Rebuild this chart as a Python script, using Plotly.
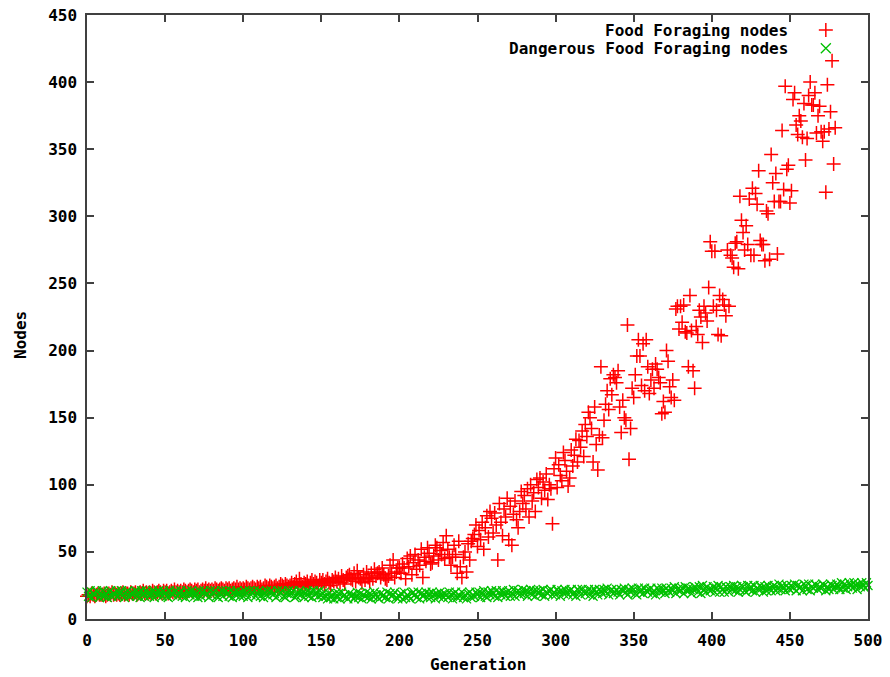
import plotly.graph_objects as go

# Food foraging node counts per generation (one value per generation, starting at 0)
food_nodes = [
    17, 18, 17, 19, 18, 17, 18, 19, 18, 18,
    18, 19, 17, 18, 19, 18, 20, 18, 19, 18,
    19, 18, 19, 20, 18, 19, 19, 18, 20, 19,
    19, 20, 18, 19, 20, 19, 21, 19, 20, 19,
    20, 19, 21, 20, 19, 20, 21, 20, 19, 21,
    20, 21, 19, 20, 21, 20, 22, 20, 21, 20,
    21, 20, 22, 21, 20, 21, 22, 21, 20, 22,
    21, 22, 20, 21, 22, 21, 23, 21, 22, 21,
    22, 21, 23, 22, 21, 22, 23, 22, 21, 23,
    22, 23, 21, 22, 23, 22, 24, 22, 23, 22,
    23, 22, 24, 23, 22, 23, 24, 23, 22, 24,
    23, 24, 22, 23, 25, 24, 23, 25, 24, 23,
    24, 25, 23, 24, 26, 25, 24, 26, 25, 24,
    25, 27, 24, 26, 28, 25, 30, 26, 24, 27,
    26, 28, 25, 27, 29, 26, 28, 27, 25, 29,
    27, 29, 26, 28, 30, 27, 25, 29, 28, 31,
    28, 30, 27, 32, 29, 26, 31, 32, 33, 30,
    29, 34, 28, 36, 31, 30, 27, 33, 29, 35,
    31, 28, 34, 30, 37, 32, 34, 35, 31, 38,
    33, 30, 29, 32, 40, 34, 44, 31, 35, 38,
    38, 34, 41, 38, 30, 45, 39, 47, 33, 42,
    48, 37, 44, 40, 52, 31, 46, 43, 53, 49,
    41, 42, 47, 55, 53, 44, 51, 48, 57, 45,
    62, 52, 46, 40, 46, 55, 48, 34, 58, 39,
    31, 46, 50, 35, 56, 44, 58, 60, 63, 70,
    54, 66, 59, 72, 52, 68, 77, 61, 80, 75,
    64, 79, 70, 44, 86, 72, 62, 82, 76, 90,
    59, 84, 55, 78, 88, 74, 68, 80, 95, 86,
    92, 82, 97, 76, 100, 88, 94, 80, 104, 98,
    105, 90, 102, 96, 108, 89, 100, 97, 71, 112,
    120, 98, 115, 107, 103, 124, 118, 110, 99, 105,
    126, 114, 122, 134, 117, 133, 128, 140, 121, 145,
    136, 154, 150, 142, 117, 158, 130, 111, 137, 188,
    135, 148, 160, 170, 156, 179, 167, 182, 180, 176,
    185, 158, 139, 163, 150, 148, 219, 119, 142, 172,
    165, 182, 196, 208, 196, 174, 205, 170, 208, 188,
    168, 178, 186, 172, 190, 186, 180, 176, 153, 162,
    154, 200, 192, 173, 165, 178, 163, 231, 233, 216,
    233, 221, 234, 214, 213, 188, 241, 215, 185, 172,
    218, 212, 230, 225, 206, 233, 228, 222, 247, 281,
    274, 233, 274, 230, 212, 241, 211, 238, 234, 226,
    275, 233, 271, 269, 262, 280, 281, 261, 315, 297,
    288, 275, 293, 279, 313, 271, 321, 271, 317, 309,
    334, 282, 279, 279, 267, 304, 302, 268, 346, 325,
    311, 332, 272, 311, 311, 364, 320, 397, 335, 338,
    310, 319, 387, 392, 368, 361, 375, 371, 359, 384,
    342, 358, 390, 400, 383, 383, 392, 362, 375, 382,
    363, 356, 363, 318, 398, 365, 378, 416, 339, 366,
]

# Dangerous food foraging node counts per generation (0..500)
danger_nodes = [
    20, 17, 21, 16, 19, 18, 21, 20, 16, 18,
    21, 17, 19, 16, 20, 21, 17, 19, 18, 21,
    17, 19, 21, 18, 16, 20, 21, 17, 19, 18,
    19, 21, 17, 20, 16, 21, 19, 17, 21, 19,
    17, 19, 21, 16, 20, 18, 21, 19, 17, 21,
    19, 17, 16, 21, 19, 18, 20, 21, 17, 19,
    21, 17, 19, 16, 21, 20, 18, 21, 19, 17,
    19, 16, 21, 17, 20, 21, 18, 19, 16, 21,
    18, 20, 21, 17, 16, 19, 21, 17, 20, 21,
    19, 17, 21, 16, 20, 18, 21, 19, 17, 20,
    17, 21, 19, 16, 21, 18, 20, 21, 17, 19,
    21, 17, 20, 16, 19, 21, 17, 20, 21, 18,
    19, 16, 21, 18, 20, 21, 17, 16, 19, 21,
    18, 20, 21, 16, 17, 19, 21, 18, 20, 16,
    19, 21, 17, 20, 16, 21, 18, 20, 17, 21,
    18, 16, 20, 17, 15, 19, 16, 18, 15, 19,
    16, 19, 15, 20, 17, 18, 16, 15, 19, 17,
    18, 15, 17, 20, 16, 19, 15, 18, 17, 20,
    16, 19, 15, 17, 20, 18, 16, 15, 19, 17,
    18, 16, 20, 15, 19, 17, 18, 20, 16, 15,
    17, 19, 15, 20, 16, 18, 17, 15, 19, 20,
    18, 16, 20, 15, 19, 17, 18, 20, 16, 19,
    16, 20, 18, 15, 19, 17, 20, 18, 16, 19,
    18, 16, 20, 18, 15, 19, 20, 16, 18, 17,
    20, 16, 18, 15, 19, 20, 16, 18, 17, 20,
    18, 20, 16, 19, 21, 17, 16, 20, 18, 21,
    19, 17, 21, 16, 20, 18, 21, 19, 17, 20,
    21, 17, 19, 22, 17, 20, 21, 18, 19, 22,
    19, 21, 17, 20, 22, 18, 21, 17, 21, 19,
    21, 18, 22, 17, 20, 19, 21, 22, 18, 20,
    18, 22, 20, 17, 21, 19, 22, 20, 18, 21,
    22, 18, 20, 17, 22, 21, 18, 22, 20, 19,
    20, 22, 18, 21, 17, 22, 20, 18, 22, 21,
    19, 22, 20, 23, 18, 21, 22, 19, 20, 22,
    20, 18, 22, 21, 23, 20, 18, 22, 20, 23,
    22, 19, 18, 23, 20, 22, 19, 23, 21, 20,
    22, 23, 19, 21, 18, 23, 22, 20, 23, 21,
    19, 23, 21, 20, 23, 21, 24, 19, 22, 23,
    21, 23, 19, 24, 21, 23, 22, 19, 22, 24,
    23, 20, 24, 19, 25, 22, 20, 24, 22, 21,
    22, 24, 20, 23, 25, 20, 24, 22, 20, 24,
    23, 20, 24, 22, 25, 21, 24, 20, 22, 25,
    24, 21, 20, 25, 22, 24, 21, 25, 20, 23,
    22, 25, 23, 20, 24, 21, 25, 23, 21, 24,
    25, 21, 23, 26, 22, 25, 23, 21, 25, 23,
    22, 25, 23, 26, 21, 25, 23, 24, 21, 26,
    25, 22, 26, 21, 24, 23, 26, 25, 22, 24,
    23, 26, 25, 21, 24, 22, 26, 25, 22, 24,
    26, 24, 22, 27, 23, 26, 22, 24, 27, 25,
    23, 27, 25, 22, 26, 24, 27, 25, 23, 27,
    25,
]

series_names = ["Food Foraging nodes", "Dangerous Food Foraging nodes"]
x_ticks = [0, 50, 100, 150, 200, 250, 300, 350, 400, 450, 500]
y_ticks = [0, 50, 100, 150, 200, 250, 300, 350, 400, 450]

RED = "#ff0000"
GREEN = "#00c000"
FONT = "DejaVu Sans Mono"
FRAME = "#404040"
TEXT_FONT = dict(family=FONT, size=16, color="black", weight="bold")

fig = go.Figure()

fig.add_trace(go.Scatter(
    x=list(range(len(food_nodes))), y=food_nodes, mode="markers",
    name=series_names[0], showlegend=False, cliponaxis=False,
    marker=dict(symbol="cross-thin", size=10, color=RED,
                line=dict(color=RED, width=1.5)),
))
fig.add_trace(go.Scatter(
    x=list(range(len(danger_nodes))), y=danger_nodes, mode="markers",
    name=series_names[1], showlegend=False, cliponaxis=False,
    marker=dict(symbol="x-thin", size=9, color=GREEN,
                line=dict(color=GREEN, width=1.3)),
))

# Key samples on an overlay axis spanning the plot box
key_x = [0.946, 0.946]
key_y = [0.975, 0.945]
fig.add_trace(go.Scatter(
    x=[key_x[0]], y=[key_y[0]], xaxis="x2", yaxis="y2", mode="markers",
    showlegend=False, hoverinfo="skip",
    marker=dict(symbol="cross-thin", size=10, color=RED, line=dict(color=RED, width=1.5)),
))
fig.add_trace(go.Scatter(
    x=[key_x[1]], y=[key_y[1]], xaxis="x2", yaxis="y2", mode="markers",
    showlegend=False, hoverinfo="skip",
    marker=dict(symbol="x-thin", size=10, color=GREEN, line=dict(color=GREEN, width=1.3)),
))

axis_common = dict(
    showline=True, linecolor=FRAME, linewidth=1.5, mirror="ticks",
    ticks="inside", ticklen=7, tickwidth=1.5, tickcolor=FRAME,
    showgrid=False, zeroline=False, automargin=False,
    tickfont=TEXT_FONT,
)

fig.update_layout(
    width=890, height=677,
    margin=dict(l=87, r=22, t=15, b=58),
    paper_bgcolor="white", plot_bgcolor="white",
    xaxis=dict(range=[0, 500], tickmode="array", tickvals=x_ticks,
               ticklabelstandoff=6, **axis_common),
    yaxis=dict(range=[0, 450], tickmode="array", tickvals=y_ticks,
               ticklabelstandoff=5, **axis_common),
    xaxis2=dict(overlaying="x", range=[0, 1], visible=False),
    yaxis2=dict(overlaying="y", range=[0, 1], visible=False),
    annotations=[
        dict(text=series_names[0], x=0.900, y=key_y[0], xref="paper", yref="paper",
             xanchor="right", yanchor="middle", showarrow=False, font=TEXT_FONT),
        dict(text=series_names[1], x=0.900, y=key_y[1], xref="paper", yref="paper",
             xanchor="right", yanchor="middle", showarrow=False, font=TEXT_FONT),
        dict(text="Generation", x=0.5, y=-0.075, xref="paper", yref="paper",
             xanchor="center", yanchor="middle", showarrow=False, font=TEXT_FONT),
        dict(text="Nodes", x=-0.086, y=0.47, xref="paper", yref="paper",
             xanchor="center", yanchor="middle", showarrow=False, textangle=-90,
             font=TEXT_FONT),
    ],
)

fig.write_html("out.html")
